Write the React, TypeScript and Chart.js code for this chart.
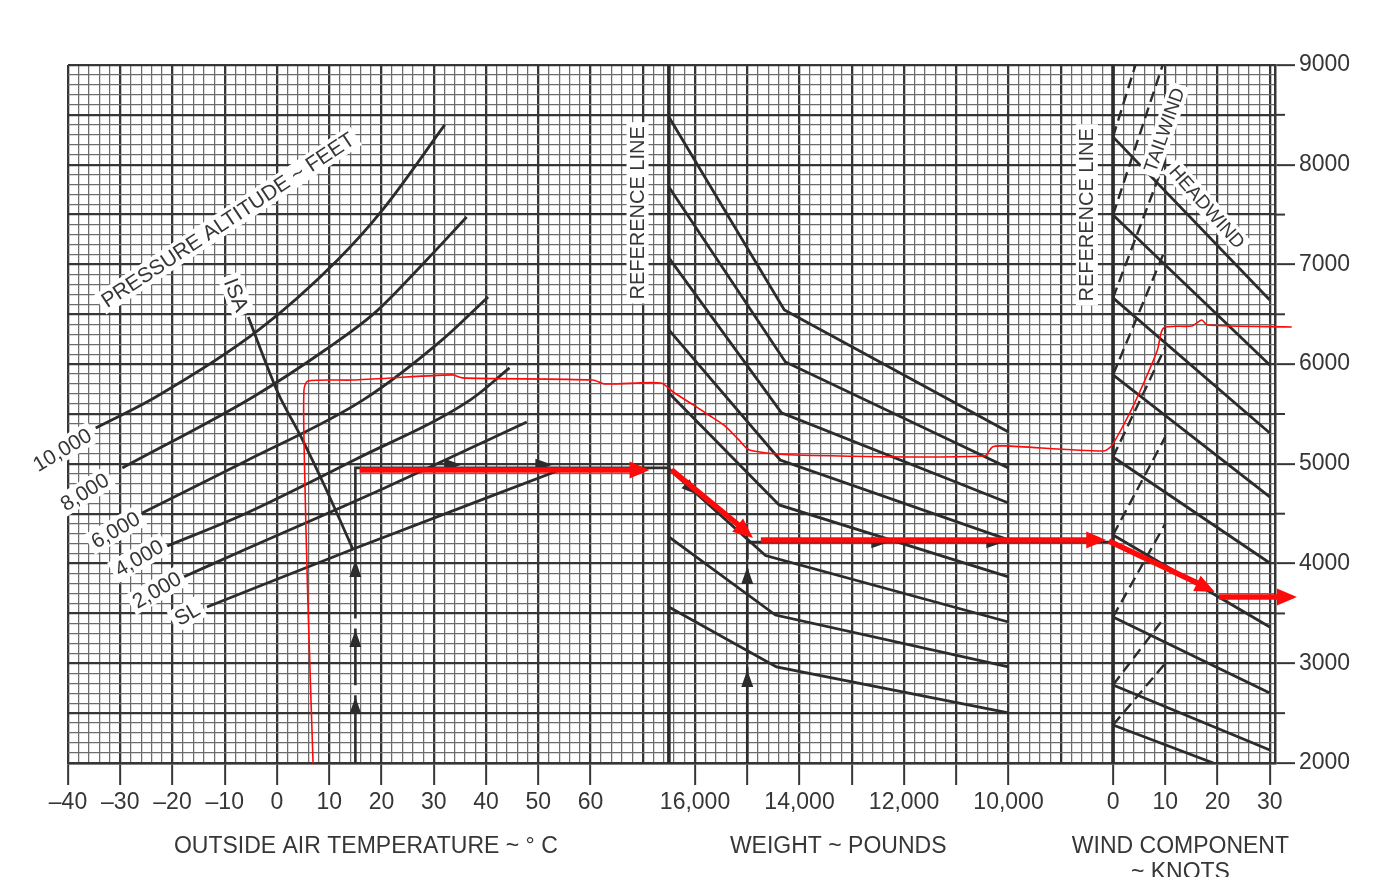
import React, { useEffect, useRef } from "react";
import { Chart, registerables } from "chart.js";

Chart.register(...registerables);

type P = [number, number];

// ---------- axis ticks ----------
const TEMP_TICKS = [-40, -30, -20, -10, 0, 10, 20, 30, 40, 50, 60];
const WEIGHT_TICKS = [16000, 15000, 14000, 13000, 12000, 11000, 10000];
const WEIGHT_LABELS = [16000, 14000, 12000, 10000];
const WIND_TICKS = [0, 10, 20, 30];
const DIST_TICKS = [2000, 3000, 4000, 5000, 6000, 7000, 8000, 9000];
const DIST_HALF_TICKS = [2500, 3500, 4500, 5500, 6500, 7500, 8500];

// ---------- panel mapping onto one shared horizontal grid ----------
const tempX = (t: number) => t;
const weightX = (w: number) => 80 + (16000 - w) / 100;
const windX = (k: number) => 160 + k;

// ---------- pressure altitude curves (°C, ft) ----------
const PA_SL: P[] = [[-13.4, 3565], [15.1, 4156], [54.1, 4939]];
const PA_2000: P[] = [[-17.9, 3866], [-5.9, 4146], [20.6, 4758], [47.8, 5420]];
const PA_4000: P[] = [[-21.3, 4170], [-6.1, 4500], [14.8, 5039], [37.0, 5641], [44.5, 5962]];
const PA_6000: P[] = [[-25.8, 4508], [-6.3, 5019], [16.5, 5641], [31.6, 6243], [40.4, 6674]];
const PA_8000: P[] = [[-29.6, 4959], [-4.6, 5671], [9.2, 6142], [18.7, 6514], [28.1, 7015], [36.3, 7476]];
const PA_10000: P[] = [[-34.7, 5360], [-23.2, 5671], [-3.5, 6343], [11.6, 7045], [20.2, 7547], [32.1, 8399]];
const ISA_LINE: P[] = [[-5.5, 6473], [0.2, 5711], [4.6, 5270], [9.2, 4768], [14.6, 4136]];

// ---------- weight guide lines (lb, ft) ----------
const WT_A: P[] = [[16500, 8479], [14290, 6544], [10000, 5320]];
const WT_B: P[] = [[16500, 7777], [14270, 6022], [10000, 4959]];
const WT_C: P[] = [[16500, 7065], [14345, 5511], [10000, 4608]];
const WT_D: P[] = [[16500, 6343], [14370, 5039], [10000, 4237]];
const WT_E: P[] = [[16500, 5711], [14390, 4588], [10000, 3866]];
const WT_F: P[] = [[16500, 4950], [14650, 4080], [10000, 3414]];
const WT_G: P[] = [[16500, 4267], [14460, 3484], [10000, 2963]];
const WT_H: P[] = [[16500, 3565], [14440, 2963], [10000, 2502]];

// ---------- headwind lines (kt, ft) ----------
const HW_1: P[] = [[0, 8279], [30, 6644]];
const HW_2: P[] = [[0, 7496], [30, 5992]];
const HW_3: P[] = [[0, 6664], [30, 5310]];
const HW_4: P[] = [[0, 5892], [30, 4668]];
const HW_5: P[] = [[0, 5069], [30, 4006]];
const HW_6: P[] = [[0, 4287], [30, 3364]];
const HW_7: P[] = [[0, 3464], [30, 2702]];
const HW_8: P[] = [[0, 2782], [30, 2130]];
const HW_9: P[] = [[0, 2381], [19.2, 2000]];

// ---------- tailwind lines (kt, ft) ----------
const TW_1: P[] = [[0, 8279], [4.3, 9000]];
const TW_2: P[] = [[0, 7496], [9.5, 9000]];
const TW_3: P[] = [[0, 6664], [10, 8050]];
const TW_4: P[] = [[0, 5892], [10, 7150]];
const TW_5: P[] = [[0, 5069], [10, 6170]];
const TW_6: P[] = [[0, 4287], [10, 5270]];
const TW_7: P[] = [[0, 3464], [10, 4400]];
const TW_8: P[] = [[0, 2782], [10, 3470]];
const TW_9: P[] = [[0, 2381], [10, 3000]];

// ---------- reference lines ----------
const REF_WEIGHT: P[] = [[16500, 2000], [16500, 9000]];
const REF_WIND: P[] = [[0, 2000], [0, 9000]];

// ---------- example path (shared grid units, ft) ----------
const EX_OAT_UP: (P | null)[] = [[15, 2000], [15, 2680], null, [15, 2780], [15, 3350], null, [15, 3450], [15, 4960], [75, 4960]];
const EX_WEIGHT_UP: (P | null)[] = [[90, 2000], [90, 2960], null, [90, 3040], [90, 3950], null, [90, 4040], [90, 4245]];
const EX_WIND_ACROSS: P[] = [[90, 4215], [160, 4215]];
const EX_HEADS: [P, P][] = [
  [[15, 2540], [15, 2662]],
  [[15, 3212], [15, 3334]],
  [[15, 3914], [15, 4036]],
  [[90, 2811], [90, 2933]],
  [[90, 3844], [90, 3966]],
  [[108, 4215], [117, 4215]],
  [[130, 4215], [139, 4215]],
  [[30, 4990], [35.3, 4990]],
  [[48, 4990], [52.7, 4990]],
  [[77.5, 4832], [80.6, 4687]],
];

// ---------- red hand annotations (shared grid units, ft) ----------
const RED_TRACE: P[] = [
  [6.9, 2000], [5.9, 3635], [5.2, 5139], [5.16, 5741], [5.9, 5831], [14.5, 5841], [33.6, 5892], [35.5, 5862],
  [60.4, 5841], [62.8, 5801], [73.5, 5811], [75.8, 5721], [79.7, 5591], [82.6, 5490], [85.5, 5390], [88.4, 5240],
  [90.4, 5139], [99.0, 5089], [135.4, 5079], [136.9, 5169], [139.2, 5180], [158.3, 5129], [159.85, 5190],
  [163.0, 5490], [165.7, 5791], [168.5, 6142], [169.7, 6363], [175.1, 6383], [177.0, 6443], [178.0, 6393], [194.2, 6373],
];
const RED_ARROWS: [P, P][] = [
  [[15.8, 4939], [71.3, 4939]],
  [[75.5, 4939], [91.1, 4257]],
  [[92.6, 4237], [158.7, 4237]],
  [[159.2, 4227], [179.5, 3715]],
  [[180.3, 3665], [195.2, 3665]],
];

// ---------- texts ----------
const FONT = '"Liberation Sans", Arial, Helvetica, sans-serif';
const INK = "#2c2c2c";
const TEXT = "#363636";
const RED = "#ff0a0a";

const CHART_LABELS: { text: string; gx: number; ft: number; angle: number; size: number }[] = [
  { text: "PRESSURE ALTITUDE ~ FEET", gx: -9.4, ft: 7446, angle: -33.6, size: 21 },
  { text: "ISA", gx: -7.8, ft: 6694, angle: 68, size: 21 },
  { text: "REFERENCE LINE", gx: 69.0, ft: 7517, angle: -90, size: 20 },
  { text: "REFERENCE LINE", gx: 155.0, ft: 7497, angle: -90, size: 20 },
  { text: "TAILWIND", gx: 169.8, ft: 8349, angle: -70.6, size: 19 },
  { text: "HEADWIND", gx: 178.0, ft: 7577, angle: 48.5, size: 19 },
  { text: "10,000", gx: -41.1, ft: 5139, angle: -31, size: 21 },
  { text: "8,000", gx: -36.8, ft: 4718, angle: -32, size: 21 },
  { text: "6,000", gx: -30.9, ft: 4337, angle: -30, size: 21 },
  { text: "4,000", gx: -26.4, ft: 4056, angle: -30, size: 21 },
  { text: "2,000", gx: -23.0, ft: 3735, angle: -30, size: 21 },
  { text: "SL", gx: -17.2, ft: 3494, angle: -30, size: 21 },
];
const AXIS_TITLES: { text: string; gx: number; dy: number }[] = [
  { text: "OUTSIDE AIR TEMPERATURE ~ ° C", gx: 17.0, dy: 84 },
  { text: "WEIGHT ~ POUNDS", gx: 107.4, dy: 84 },
  { text: "WIND COMPONENT", gx: 172.9, dy: 84 },
  { text: "~ KNOTS", gx: 172.9, dy: 110 },
];

// ---------- tick label lookup ----------
const X_LABELS = new Map<number, string>();
TEMP_TICKS.forEach((t) => X_LABELS.set(tempX(t), t < 0 ? "\u2013" + Math.abs(t) : String(t)));
WEIGHT_LABELS.forEach((w) => X_LABELS.set(weightX(w), `${w / 1000},000`));
WIND_TICKS.forEach((k) => X_LABELS.set(windX(k), String(k)));
const X_TICK_MARKS = new Set<number>([
  ...TEMP_TICKS.map(tempX),
  ...WEIGHT_TICKS.map(weightX),
  ...WIND_TICKS.map(windX),
]);

const MAJOR = "#363636";
const MINOR = "#6c6c6c";

const toXY = (pts: (P | null)[], fx: (v: number) => number) =>
  pts.map((p) => (p ? { x: fx(p[0]), y: p[1] } : { x: NaN, y: null as any }));

function lineDs(pts: (P | null)[], fx: (v: number) => number, extra: any = {}) {
  return {
    data: toXY(pts, fx),
    showLine: true,
    pointRadius: 0,
    pointHoverRadius: 0,
    borderColor: INK,
    borderWidth: 2.8,
    fill: false,
    spanGaps: false,
    order: 3,
    ...extra,
  };
}

function drawHead(ctx: CanvasRenderingContext2D, x1: number, y1: number, x2: number, y2: number, len: number, w: number, color: string) {
  const a = Math.atan2(y2 - y1, x2 - x1);
  const bx = x2 - len * Math.cos(a);
  const by = y2 - len * Math.sin(a);
  ctx.fillStyle = color;
  ctx.beginPath();
  ctx.moveTo(x2, y2);
  ctx.lineTo(bx + (w / 2) * Math.sin(a), by - (w / 2) * Math.cos(a));
  ctx.lineTo(bx - (w / 2) * Math.sin(a), by + (w / 2) * Math.cos(a));
  ctx.closePath();
  ctx.fill();
  return [bx, by];
}

const overlay = {
  id: "overlay",
  afterDatasetsDraw(chart: any) {
    const { ctx, scales } = chart;
    const sx = scales.x;
    const sy = scales.y;
    ctx.save();
    CHART_LABELS.forEach((l) => {
      const px = sx.getPixelForValue(l.gx);
      const py = sy.getPixelForValue(l.ft);
      ctx.save();
      ctx.translate(px, py);
      ctx.rotate((l.angle * Math.PI) / 180);
      ctx.font = `${l.size}px ${FONT}`;
      ctx.textAlign = "center";
      ctx.textBaseline = "middle";
      const w = ctx.measureText(l.text).width;
      ctx.fillStyle = "#ffffff";
      ctx.fillRect(-w / 2 - 4, -l.size * 0.55, w + 8, l.size * 1.1);
      ctx.fillStyle = TEXT;
      ctx.fillText(l.text, 0, 1);
      ctx.restore();
    });
    EX_HEADS.forEach(([a, b]) => {
      drawHead(ctx, sx.getPixelForValue(a[0]), sy.getPixelForValue(a[1]), sx.getPixelForValue(b[0]), sy.getPixelForValue(b[1]), 17, 12, INK);
    });
    RED_ARROWS.forEach(([a, b]) => {
      const x1 = sx.getPixelForValue(a[0]);
      const y1 = sy.getPixelForValue(a[1]);
      const x2 = sx.getPixelForValue(b[0]);
      const y2 = sy.getPixelForValue(b[1]);
      const [bx, by] = drawHead(ctx, x1, y1, x2, y2, 20, 17, RED);
      ctx.strokeStyle = RED;
      ctx.lineWidth = 5.5;
      ctx.lineCap = "butt";
      ctx.beginPath();
      ctx.moveTo(x1, y1);
      ctx.lineTo(bx + 1, by);
      ctx.stroke();
    });
    ctx.restore();
  },
  afterDraw(chart: any) {
    const { ctx, scales, chartArea } = chart;
    const sx = scales.x;
    const sy = scales.y;
    ctx.save();
    ctx.strokeStyle = MAJOR;
    ctx.lineWidth = 2;
    DIST_HALF_TICKS.forEach((v) => {
      const py = sy.getPixelForValue(v);
      ctx.beginPath();
      ctx.moveTo(chartArea.right, py);
      ctx.lineTo(chartArea.right + 10, py);
      ctx.stroke();
    });
    ctx.fillStyle = TEXT;
    ctx.font = `23px ${FONT}`;
    ctx.textAlign = "center";
    ctx.textBaseline = "middle";
    AXIS_TITLES.forEach((t) => {
      ctx.fillText(t.text, sx.getPixelForValue(t.gx), chartArea.bottom + t.dy);
    });
    ctx.restore();
  },
};

export default function App() {
  const ref = useRef<HTMLCanvasElement | null>(null);

  useEffect(() => {
    if (!ref.current) return;
    const curve = { cubicInterpolationMode: "monotone" };
    const datasets: any[] = [
      lineDs(PA_SL, tempX, curve),
      lineDs(PA_2000, tempX, curve),
      lineDs(PA_4000, tempX, curve),
      lineDs(PA_6000, tempX, curve),
      lineDs(PA_8000, tempX, curve),
      lineDs(PA_10000, tempX, curve),
      lineDs(ISA_LINE, tempX, { tension: 0.3 }),
      ...[WT_A, WT_B, WT_C, WT_D, WT_E, WT_F, WT_G, WT_H].map((d) => lineDs(d, weightX)),
      ...[HW_1, HW_2, HW_3, HW_4, HW_5, HW_6, HW_7, HW_8, HW_9].map((d) => lineDs(d, windX)),
      ...[TW_1, TW_2, TW_3, TW_4, TW_5, TW_6, TW_7, TW_8, TW_9].map((d) =>
        lineDs(d, windX, { borderDash: [11, 6], borderWidth: 2.4 })
      ),
      lineDs(REF_WEIGHT, weightX, { borderWidth: 3.6 }),
      lineDs(REF_WIND, windX, { borderWidth: 3.6 }),
      lineDs(EX_OAT_UP, (v) => v, { borderWidth: 2.6, order: 2 }),
      lineDs(EX_WEIGHT_UP, (v) => v, { borderWidth: 2.6, order: 2 }),
      lineDs(EX_WIND_ACROSS, (v) => v, { borderWidth: 2.6, order: 2 }),
      lineDs(RED_TRACE, (v) => v, { borderColor: RED, borderWidth: 1.6, tension: 0.25, order: 1, clip: false }),
    ];

    const tickFont = { family: FONT, size: 23 };

    const chart = new Chart(ref.current, {
      type: "scatter",
      data: { datasets },
      options: {
        animation: false,
        responsive: false,
        maintainAspectRatio: false,
        devicePixelRatio: 1,
        events: [],
        layout: { padding: { left: 60, top: 57, right: 25, bottom: 54 } },
        plugins: { legend: { display: false }, tooltip: { enabled: false }, title: { display: false } },
        scales: {
          x: {
            type: "linear",
            min: -40,
            max: 191,
            bounds: "data",
            position: "bottom",
            afterFit: (s: any) => {
              s.height = 60;
            },
            ticks: {
              stepSize: 2,
              includeBounds: false,
              autoSkip: false,
              maxTicksLimit: 1000,
              maxRotation: 0,
              minRotation: 0,
              padding: 4,
              color: TEXT,
              font: tickFont,
              callback: (v: any) => X_LABELS.get(Math.round(Number(v))) ?? "",
            },
            grid: {
              drawOnChartArea: true,
              drawTicks: true,
              tickLength: 22,
              tickWidth: 2,
              tickColor: (c: any) => (c.tick && X_TICK_MARKS.has(Math.round(c.tick.value)) ? MAJOR : "rgba(0,0,0,0)"),
              color: (c: any) => (c.tick && Math.round(c.tick.value) % 10 === 0 ? MAJOR : MINOR),
              lineWidth: (c: any) => (c.tick && Math.round(c.tick.value) % 10 === 0 ? 2.3 : 1.25),
            },
            border: { display: true, color: MAJOR, width: 2.5 },
          },
          y: {
            type: "linear",
            min: 2000,
            max: 9000,
            position: "right",
            afterFit: (s: any) => {
              s.width = 80;
            },
            ticks: {
              stepSize: 100,
              autoSkip: false,
              maxTicksLimit: 1000,
              padding: 4,
              color: TEXT,
              font: tickFont,
              callback: (v: any) => (DIST_TICKS.includes(Math.round(Number(v))) ? String(Math.round(Number(v))) : ""),
            },
            grid: {
              drawOnChartArea: true,
              drawTicks: true,
              tickLength: 20,
              tickWidth: 2,
              tickColor: (c: any) => (c.tick && DIST_TICKS.includes(Math.round(c.tick.value)) ? MAJOR : "rgba(0,0,0,0)"),
              color: (c: any) => (c.tick && Math.round(c.tick.value) % 500 === 0 ? MAJOR : MINOR),
              lineWidth: (c: any) => (c.tick && Math.round(c.tick.value) % 500 === 0 ? 2.3 : 1.25),
            },
            border: { display: true, color: MAJOR, width: 2.5 },
          },
        },
      } as any,
      plugins: [overlay],
    });
    return () => chart.destroy();
  }, []);

  return (
    <canvas
      ref={ref}
      width={1372}
      height={869}
      style={{ display: "block", position: "fixed", left: 8, top: 8, width: 1372, height: 869 }}
    />
  );
}
